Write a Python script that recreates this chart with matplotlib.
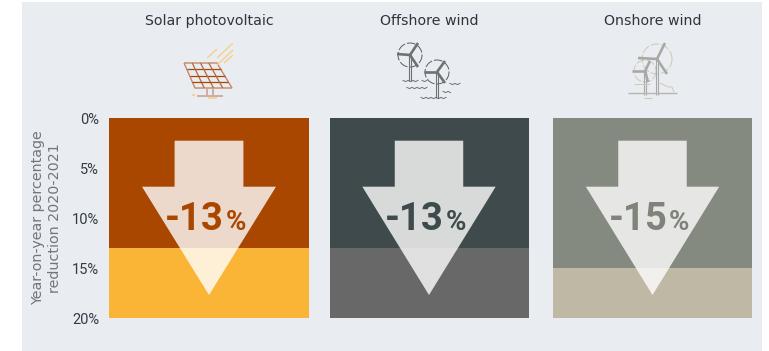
import matplotlib
matplotlib.use('Agg')
import matplotlib.pyplot as plt
from matplotlib.patches import Polygon, Rectangle, Arc

W, H = 769, 351

categories = ['Solar photovoltaic', 'Offshore wind', 'Onshore wind']
reductions = [13, 13, 15]
labels = ['-13', '-13', '-15']
y_ticks = [0, 5, 10, 15, 20]

upper_colors = ['#A94600', '#3F4A4D', '#858A80']
lower_colors = ['#FBB536', '#686868', '#BFB8A5']
text_colors = ['#A94600', '#3F4A4D', '#7F847B']

# left and right edge of each panel, in pixels
panel_x = [(109, 309), (329.5, 528.5), (553, 752)]
panel_top, panel_bottom = 118, 318

BG = '#E9ECF1'
TICK = '#323C46'


def px_axes(fig, x0, y0, x1, y1):
	return fig.add_axes([x0 / W, 1 - y1 / H, (x1 - x0) / W, (y1 - y0) / H])


def line(ax, pts, color, lw=1.0, alpha=1.0):
	ax.plot([p[0] for p in pts], [p[1] for p in pts], color=color, lw=lw, alpha=alpha,
		solid_capstyle='butt', solid_joinstyle='miter')


def wave(ax, x0, x1, y, color):
	# little wiggle along a short stretch of water
	xs = []
	ys = []
	x = x0
	up = True
	while x <= x1:
		xs.append(x)
		ys.append(y - 0.6 if up else y + 0.6)
		up = not up
		x += 2.5
	ax.plot(xs, ys, color=color, lw=0.7)


def solar_icon(ax):
	brown = '#B5683A'
	yellow = '#F9CF8C'
	tl, tr, br, bl = (184, 63), (217, 63), (232, 88), (195, 88)
	line(ax, [tl, tr, br, bl, tl], '#C58A68', 1.0)
	for f in [0.25, 0.5, 0.75]:
		a = (tl[0] + (bl[0] - tl[0]) * f, tl[1] + (bl[1] - tl[1]) * f)
		b = (tr[0] + (br[0] - tr[0]) * f, tr[1] + (br[1] - tr[1]) * f)
		line(ax, [a, b], '#A94600', 0.9)
		c = (tl[0] + (tr[0] - tl[0]) * f, tl[1])
		d = (bl[0] + (br[0] - bl[0]) * f, bl[1])
		line(ax, [c, d], brown, 0.9)
	line(ax, [(207, 88), (207, 95)], '#C9A590', 1.2)
	line(ax, [(213, 88), (213, 95)], '#C9A590', 1.2)
	line(ax, [(197, 96), (223, 96)], '#C9A590', 1.2)
	line(ax, [(192, 95), (195, 95)], yellow, 1.2)
	line(ax, [(208, 98), (217, 98)], yellow, 1.2)
	for ray in [[(207, 58), (217, 49)], [(217, 58), (233, 43)], [(217, 65), (233, 50)], [(224, 63), (233, 55)]]:
		line(ax, ray, yellow, 1.0)


def turbine(ax, hub, tower_end, tips, color, lw, ring_color, ring_r):
	ax.add_patch(Arc(hub, ring_r * 2, ring_r * 2, theta1=0, theta2=360, ec=ring_color,
		lw=0.7, ls=(0, (9, 2))))
	line(ax, [(hub[0] - 1, hub[1]), (hub[0] - 1, tower_end[1])], color, 0.8)
	line(ax, [(hub[0] + 1, hub[1]), (hub[0] + 1, tower_end[1])], color, 0.8)
	for tip in tips:
		line(ax, [hub, tip], color, lw)


def offshore_icon(ax):
	c = '#6E7274'
	turbine(ax, (410, 55), (410, 81), [(418, 43), (397, 54), (418, 67)], c, 1.9, '#5A5E60', 12)
	turbine(ax, (437, 72), (437, 98), [(445, 61), (424, 72), (445, 83)], c, 1.9, '#5A5E60', 12)
	for w in [(403, 418, 81), (407, 428, 88), (421, 446, 98), (422, 428, 81), (450, 462, 84), (443, 452, 92)]:
		wave(ax, w[0], w[1], w[2], '#6E7274')


def onshore_icon(ax):
	c = '#A6AAA6'
	tan = '#CFC8B4'
	turbine(ax, (657, 59), (657, 95), [(665, 43), (638, 58), (667, 74)], c, 1.9, tan, 15)
	turbine(ax, (645, 71), (645, 95), [(650, 61), (632, 71), (648, 82)], c, 1.9, tan, 11)
	line(ax, [(628, 93), (677, 93)], '#B4B7B2', 1.0)
	line(ax, [(634, 84), (650, 84)], tan, 0.7)
	line(ax, [(660, 83), (668, 87), (672, 87), (674, 92)], tan, 0.7)
	line(ax, [(644, 98), (652, 98)], tan, 0.8)


def main():
	plt.rcParams['font.family'] = ['DejaVu Sans']
	fig = plt.figure(figsize=(W / 100, H / 100), dpi=100, facecolor='white')

	# page background and the icons live on one axes in pixel units
	page = fig.add_axes([0, 0, 1, 1])
	page.set_xlim(0, W)
	page.set_ylim(H, 0)
	page.axis('off')
	page.add_patch(Rectangle((22, 2), 740, H - 2, fc=BG, ec='none'))
	solar_icon(page)
	offshore_icon(page)
	onshore_icon(page)

	for i in range(len(categories)):
		x0, x1 = panel_x[i]
		ax = px_axes(fig, x0, panel_top, x1, panel_bottom)
		ax.bar(0.5, reductions[i], width=1, bottom=0, color=upper_colors[i])
		ax.bar(0.5, y_ticks[-1] - reductions[i], width=1, bottom=reductions[i], color=lower_colors[i])
		ax.set_xlim(0, 1)
		ax.set_ylim(y_ticks[-1], 0)
		for s in ax.spines.values():
			s.set_visible(False)
		ax.set_xticks([])

		if i == 0:
			ax.set_yticks(y_ticks)
			ax.set_yticklabels(['{}%'.format(t) for t in y_ticks], fontsize=10.5, color=TICK,
				family='Roboto')
			ax.tick_params(axis='y', length=0, pad=7)
			ax.set_ylabel('Year-on-year percentage\nreduction 2020-2021', fontsize=10.3,
				color='#6F777B', labelpad=7, linespacing=1.3)
		else:
			ax.set_yticks([])

		# arrow, same shape in every panel
		arrow = [(0.328, 2.27), (0.672, 2.27), (0.672, 6.87), (0.835, 6.87), (0.5, 17.7),
			(0.165, 6.87), (0.328, 6.87)]
		ax.add_patch(Polygon(arrow, closed=True, fc='white', ec='none', alpha=0.8))

		ax.text(0.575, 11.15, labels[i], ha='right', va='baseline', fontsize=27.5,
			fontweight='bold', family='Roboto', color=text_colors[i])
		ax.text(0.583, 11.15, '%', ha='left', va='baseline', fontsize=20,
			fontweight='bold', family='Roboto', color=text_colors[i])

		page.text((x0 + x1) / 2, 21, categories[i], ha='center', va='center', fontsize=10.2,
			color='#30343C')

	fig.savefig('out.png', dpi=100)


if __name__ == '__main__':
	main()
